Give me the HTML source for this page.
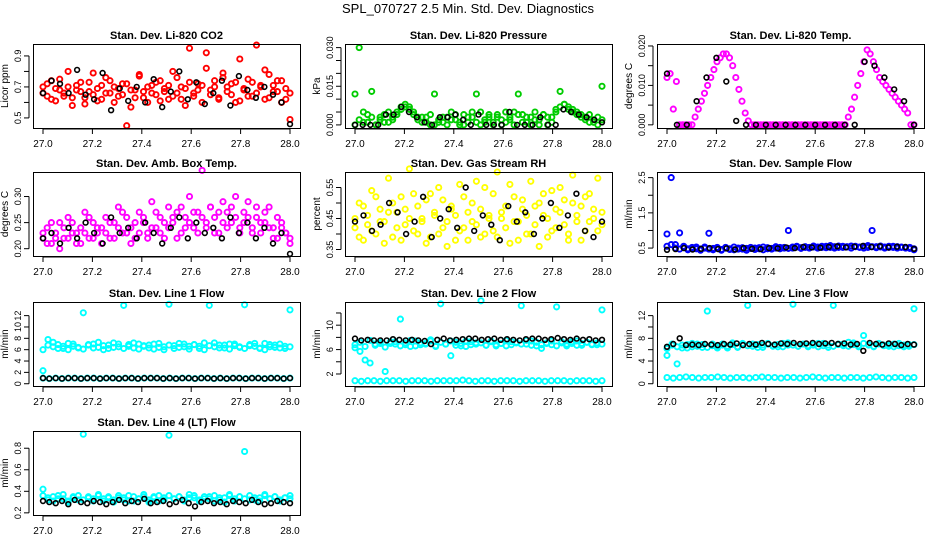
<!DOCTYPE html>
<html><head><meta charset="utf-8"><style>
html,body{margin:0;padding:0;background:#fff;}
svg{display:block;font-family:"Liberation Sans",sans-serif;}
</style></head><body>
<svg id="chart" width="936" height="540" viewBox="0 0 936 540">
<text x="468" y="13" text-anchor="middle" font-size="13">SPL_070727  2.5 Min. Std. Dev. Diagnostics</text>
</svg>
<script>
// ---- data arrays ----
const xTicks=[27.0,27.2,27.4,27.6,27.8,28.0];
const xTickLabels=["27.0","27.2","27.4","27.6","27.8","28.0"];
const titles=["Stan. Dev. Li-820 CO2","Stan. Dev. Li-820 Pressure","Stan. Dev. Li-820 Temp.","Stan. Dev. Amb. Box Temp.","Stan. Dev. Gas Stream RH","Stan. Dev. Sample Flow","Stan. Dev. Line 1 Flow","Stan. Dev. Line 2 Flow","Stan. Dev. Line 3 Flow","Stan. Dev. Line 4 (LT) Flow"];
const yLabels=["Licor ppm","kPa","degrees C","degrees C","percent","ml/min","ml/min","ml/min","ml/min","ml/min"];
const yRanges=[[0.435,0.977],[-0.0012,0.0314],[-0.0008,0.0205],[0.186,0.347],[0.329,0.60],[0.275,2.66],[-0.4,14.4],[0.03,13.8],[-0.4,14.4],[0.18,0.96]];
const yTicks=[[0.5,0.6,0.7,0.8,0.9],[0,0.005,0.01,0.015,0.02,0.025,0.03],[0,0.005,0.01,0.015,0.02],[0.2,0.25,0.3],[0.35,0.4,0.45,0.5,0.55],[0.5,1,1.5,2,2.5],[0,2,4,6,8,10,12],[2,4,6,8,10,12],[0,2,4,6,8,10,12],[0.2,0.4,0.6,0.8]];
const yTickLabels=[["0.5","","0.7","","0.9"],["0.000","","","0.015","","","0.030"],["0.000","","0.010","","0.020"],["0.20","0.25","0.30"],["0.35","","0.45","","0.55"],["0.5","","1.5","","2.5"],["0","2","4","6","8","10","12"],["2","","6","","10",""],["0","","4","","8","","12"],["0.2","0.4","0.6","0.8"]];

const co2A=[0.66,0.72,0.62,0.69,0.75,0.64,0.70,0.58,0.68,0.73,0.63,0.67,0.79,0.61,0.71,0.66,0.74,0.60,0.69,0.65,0.72,0.57,0.68,0.77,0.63,0.70,0.66,0.73,0.61,0.67,0.71,0.64,0.76,0.62,0.69,0.95,0.66,0.72,0.60,0.92,0.68,0.74,0.63,0.79,0.70,0.65,0.73,0.61,0.68,0.75,0.64,0.97,0.71,0.62,0.78,0.67,0.74,0.60,0.69,0.49];
const co2B=[0.70,0.64,0.74,0.61,0.68,0.66,0.80,0.63,0.71,0.67,0.59,0.73,0.65,0.69,0.62,0.76,0.66,0.70,0.64,0.72,0.45,0.68,0.63,0.78,0.67,0.60,0.71,0.65,0.74,0.69,0.62,0.80,0.66,0.70,0.58,0.73,0.64,0.68,0.71,0.82,0.65,0.70,0.62,0.76,0.67,0.72,0.60,0.88,0.69,0.64,0.73,0.66,0.70,0.81,0.63,0.71,0.67,0.74,0.62,0.66];
const co2K=[0.66,0.74,0.72,0.66,0.81,0.65,0.62,0.79,0.55,0.69,0.61,0.70,0.60,0.75,0.57,0.67,0.80,0.62,0.73,0.59,0.66,0.74,0.58,0.77,0.68,0.63,0.70,0.65,0.60,0.46];

const presA=[0.012,0.030,0.001,0.004,0.013,0.000,0.003,0.001,0.005,0.002,0.004,0.006,0.007,0.006,0.004,0.002,0.001,0.003,0.000,0.012,0.002,0.001,0.003,0.005,0.002,0.000,0.004,0.001,0.003,0.012,0.005,0.001,0.003,0.000,0.004,0.002,0.001,0.003,0.005,0.012,0.004,0.001,0.003,0.002,0.000,0.004,0.003,0.001,0.006,0.013,0.008,0.006,0.005,0.004,0.003,0.002,0.004,0.001,0.003,0.015];
const presB=[0.000,0.002,0.005,0.001,0.003,0.000,0.002,0.004,0.001,0.003,0.005,0.007,0.008,0.007,0.005,0.003,0.003,0.001,0.004,0.000,0.001,0.003,0.000,0.002,0.004,0.001,0.000,0.003,0.005,0.001,0.000,0.002,0.004,0.001,0.003,0.000,0.005,0.002,0.000,0.004,0.001,0.003,0.000,0.005,0.002,0.004,0.000,0.003,0.005,0.007,0.008,0.007,0.006,0.005,0.004,0.003,0.001,0.002,0.000,0.002];
const presK=[0.000,0.000,0.000,0.000,0.004,0.004,0.007,0.005,0.003,0.001,0.000,0.003,0.003,0.004,0.002,0.000,0.004,0.000,0.000,0.000,0.005,0.000,0.000,0.000,0.003,0.000,0.000,0.006,0.005,0.004,0.003,0.002,0.001];

const tempM=[0.012,0.013,0.004,0.011,0,0,0,0,0,0.002,0.004,0.006,0.008,0.010,0.012,0.014,0.016,0.017,0.018,0.018,0.017,0.015,0.012,0.009,0.006,0.003,0.001,0,0,0,0,0,0,0,0,0,0,0,0,0,0,0,0,0,0,0,0,0,0,0,0,0,0,0,0,0,0,0,0.002,0.004,0.007,0.010,0.013,0.016,0.019,0.018,0.016,0.014,0.012,0.011,0.010,0.009,0.008,0.007,0.006,0.005,0.004,0.003,0,0];
const tempK=[0.013,0,0,0.006,0.012,0.017,0.011,0.001,0,0,0,0,0,0,0,0,0,0,0,0,0.016,0.015,0.012,0.009,0.006,0];

const boxA=[0.22,0.24,0.21,0.23,0.25,0.22,0.26,0.23,0.21,0.24,0.27,0.22,0.25,0.23,0.24,0.26,0.22,0.25,0.28,0.23,0.26,0.24,0.22,0.27,0.25,0.23,0.29,0.24,0.26,0.22,0.28,0.25,0.27,0.23,0.26,0.30,0.24,0.27,0.35,0.25,0.28,0.26,0.23,0.29,0.27,0.25,0.30,0.24,0.27,0.26,0.23,0.28,0.25,0.27,0.24,0.22,0.26,0.24,0.23,0.21];
const boxB=[0.23,0.21,0.25,0.22,0.20,0.24,0.22,0.25,0.23,0.21,0.23,0.26,0.22,0.24,0.21,0.23,0.25,0.22,0.24,0.27,0.23,0.21,0.25,0.23,0.26,0.22,0.24,0.27,0.23,0.25,0.24,0.26,0.22,0.28,0.24,0.25,0.27,0.23,0.26,0.24,0.28,0.23,0.27,0.25,0.24,0.28,0.26,0.23,0.25,0.29,0.24,0.26,0.23,0.25,0.28,0.24,0.22,0.25,0.23,0.22];
const boxK=[0.22,0.23,0.21,0.24,0.22,0.25,0.23,0.21,0.26,0.23,0.24,0.22,0.25,0.23,0.21,0.24,0.26,0.22,0.25,0.23,0.24,0.22,0.26,0.23,0.25,0.22,0.24,0.21,0.23,0.19];

const rhA=[0.42,0.50,0.38,0.46,0.54,0.40,0.48,0.44,0.58,0.39,0.47,0.52,0.43,0.61,0.41,0.49,0.45,0.37,0.53,0.46,0.40,0.51,0.44,0.48,0.38,0.56,0.42,0.47,0.50,0.43,0.39,0.55,0.46,0.41,0.60,0.45,0.49,0.37,0.52,0.44,0.48,0.40,0.57,0.43,0.50,0.46,0.39,0.54,0.42,0.47,0.51,0.38,0.59,0.44,0.49,0.41,0.53,0.45,0.58,0.43];
const rhB=[0.45,0.39,0.49,0.43,0.41,0.52,0.44,0.37,0.47,0.50,0.42,0.38,0.48,0.45,0.53,0.40,0.44,0.51,0.39,0.47,0.55,0.42,0.36,0.49,0.46,0.41,0.52,0.38,0.44,0.57,0.48,0.40,0.45,0.53,0.39,0.47,0.42,0.56,0.44,0.38,0.51,0.46,0.40,0.49,0.36,0.53,0.45,0.41,0.48,0.55,0.43,0.40,0.50,0.46,0.38,0.52,0.44,0.48,0.41,0.47];
const rhK=[0.44,0.46,0.41,0.43,0.50,0.47,0.40,0.44,0.52,0.39,0.45,0.48,0.42,0.55,0.41,0.46,0.43,0.38,0.49,0.44,0.47,0.40,0.45,0.50,0.42,0.46,0.53,0.41,0.39,0.44];

const flowA=[0.9,2.5,0.6,0.93,0.52,0.48,0.5,0.53,0.47,0.5,0.92,0.49,0.52,0.46,0.5,0.48,0.53,0.47,0.51,0.49,0.52,0.5,0.48,0.53,0.51,0.49,0.54,0.52,0.5,1.0,0.53,0.55,0.51,0.54,0.52,0.56,0.53,0.55,0.51,0.57,0.54,0.52,0.55,0.53,0.56,0.54,0.52,0.55,0.57,1.0,0.54,0.56,0.53,0.55,0.52,0.54,0.53,0.51,0.52,0.48];
const flowB=[0.55,0.6,0.5,0.47,0.55,0.45,0.52,0.48,0.44,0.53,0.47,0.45,0.5,0.44,0.52,0.46,0.45,0.5,0.47,0.44,0.49,0.46,0.51,0.45,0.48,0.47,0.5,0.48,0.52,0.49,0.5,0.53,0.49,0.52,0.5,0.53,0.5,0.52,0.55,0.52,0.5,0.56,0.52,0.54,0.5,0.55,0.53,0.5,0.52,0.54,0.51,0.53,0.5,0.52,0.55,0.5,0.52,0.5,0.49,0.45];
const flowK=[0.45,0.47,0.5,0.46,0.48,0.5,0.47,0.49,0.46,0.5,0.48,0.47,0.5,0.49,0.52,0.5,0.53,0.52,0.51,0.53,0.55,0.52,0.54,0.56,0.53,0.55,0.52,0.54,0.53,0.48];

const l1A=[2.3,7.8,6.5,6.9,6.2,7.1,6.6,6.3,12.5,6.8,7.0,6.4,6.7,6.2,7.2,6.5,13.8,6.9,6.3,7.0,6.6,6.8,6.1,7.1,6.5,14.0,6.7,6.4,7.0,6.6,6.9,6.2,7.2,13.8,6.5,6.8,6.3,7.0,6.7,6.4,13.9,6.9,6.6,6.2,7.1,6.5,6.8,6.3,6.6,13.0];
const l1B=[6.0,6.8,7.3,6.2,6.6,6.0,7.0,6.4,6.1,6.9,6.3,7.3,6.0,6.8,6.4,7.0,6.2,6.6,7.2,6.1,6.7,6.3,7.0,6.4,6.0,6.8,6.2,7.1,6.5,6.1,6.9,6.6,6.0,6.7,7.2,6.3,6.8,6.1,7.0,6.5,6.2,6.7,7.1,6.3,6.0,6.9,6.4,7.0,6.2,6.5];
const l1K=[1.0,0.9,1.0,0.9,1.0,1.0,0.9,1.0,1.0,0.9,1.0,1.0,0.9,1.0,1.0,0.9,1.0,1.0,1.0,0.9,1.0,0.9,1.0,1.0,0.9,1.0,1.0,0.9,1.0,0.9,1.0,1.0,0.9,1.0,1.0,0.9,1.0,1.0,0.9,1.0];

const l2A=[6.3,5.7,4.3,3.8,6.9,7.2,2.4,7.0,7.3,11.0,6.8,7.5,6.6,7.1,6.9,7.4,6.5,13.5,6.9,5.0,7.2,6.6,7.4,6.8,7.1,14.0,6.7,7.3,6.6,7.0,7.5,6.8,7.2,13.2,6.9,7.4,6.6,6.2,7.1,6.8,13.0,7.3,6.6,7.0,7.4,6.7,7.2,6.9,6.8,12.5];
const l2B=[6.8,7.2,6.5,7.5,6.7,7.0,6.4,7.3,6.9,6.6,7.1,6.5,7.4,6.8,7.0,7.6,6.6,7.2,6.9,7.4,6.7,7.0,6.5,7.3,6.9,7.1,6.7,7.4,6.8,7.0,6.6,7.3,7.1,6.9,7.5,6.7,7.2,6.8,7.0,7.4,6.6,7.1,6.9,7.3,6.7,7.0,7.2,6.8,7.1,6.9];
const l2L=[0.9,0.8,0.9,0.9,0.8,0.9,0.9,0.9,0.8,0.9,0.9,0.9,0.8,0.9,0.9,0.9,0.9,1.0,0.9,0.8,0.9,0.9,0.8,0.9,0.9,0.9,0.8,0.9,0.9,0.9,0.8,0.9,0.9,0.9,0.8,0.9,0.9,0.9,0.8,0.9];
const l2K=[7.8,7.5,7.6,7.5,7.5,7.5,7.7,7.6,7.5,7.6,7.5,7.4,6.9,7.6,7.8,7.5,7.6,7.7,7.8,7.8,7.6,7.7,7.8,7.6,7.7,7.6,7.5,7.7,7.8,7.8,7.6,7.7,7.9,7.7,7.6,7.8,7.6,7.7,7.5,7.6];

const l3A=[5.0,6.8,3.5,6.3,6.9,6.5,7.0,6.4,12.8,6.7,6.3,7.0,6.6,6.9,6.4,7.1,13.8,6.6,6.9,6.4,7.0,6.7,6.5,7.1,6.8,14.0,6.6,7.0,6.5,6.8,7.1,6.7,6.4,13.8,6.9,7.0,6.6,7.2,6.7,8.5,6.9,6.5,7.1,6.8,6.6,7.0,6.7,6.5,6.9,13.2];
const l3B=[6.2,7.0,6.5,6.8,6.3,7.1,6.6,6.9,6.4,7.0,6.6,6.8,6.3,7.2,6.5,6.9,6.7,7.0,6.4,6.8,7.1,6.6,6.9,6.5,7.2,6.8,6.6,7.0,6.7,6.9,6.5,7.1,6.8,6.6,7.0,6.7,7.3,6.9,6.5,7.1,6.8,6.6,7.0,6.7,6.9,6.5,7.1,6.8,6.6,6.9];
const l3L=[1.1,1.0,1.1,1.2,1.1,1.0,1.1,1.1,1.2,1.1,1.0,1.1,1.1,1.0,1.1,1.2,1.1,1.1,1.0,1.1,1.1,1.0,1.1,1.2,1.1,1.0,1.1,1.1,1.0,1.1,1.1,1.0,1.1,1.2,1.1,1.0,1.1,1.1,1.0,1.1];
const l3K=[6.5,7.0,8.0,6.8,6.9,6.8,7.0,6.9,6.8,7.0,6.9,7.1,6.8,7.0,6.9,7.2,7.0,6.9,7.1,7.0,7.2,7.0,7.1,7.2,7.0,7.1,7.2,7.0,7.1,6.9,7.0,5.8,7.2,7.0,6.9,7.1,7.0,6.8,7.0,6.9];

const l4A=[0.42,0.34,0.31,0.36,0.33,0.30,0.35,0.32,0.93,0.34,0.31,0.36,0.33,0.35,0.30,0.34,0.32,0.36,0.31,0.33,0.35,0.30,0.34,0.36,0.32,0.92,0.33,0.35,0.31,0.34,0.36,0.32,0.33,0.35,0.31,0.34,0.30,0.36,0.33,0.35,0.77,0.32,0.34,0.31,0.36,0.33,0.35,0.32,0.34,0.33];
const l4B=[0.36,0.32,0.35,0.33,0.37,0.31,0.34,0.36,0.32,0.35,0.33,0.37,0.31,0.34,0.32,0.36,0.34,0.31,0.35,0.33,0.37,0.32,0.35,0.31,0.34,0.36,0.33,0.35,0.32,0.37,0.34,0.31,0.35,0.33,0.36,0.32,0.34,0.37,0.31,0.35,0.33,0.36,0.32,0.34,0.37,0.33,0.35,0.31,0.34,0.36];
const l4K=[0.31,0.30,0.29,0.31,0.28,0.32,0.30,0.29,0.31,0.30,0.28,0.30,0.32,0.29,0.31,0.30,0.33,0.29,0.30,0.31,0.28,0.30,0.32,0.29,0.26,0.30,0.31,0.29,0.30,0.28,0.31,0.30,0.29,0.32,0.30,0.28,0.29,0.31,0.30,0.29];

const panelSeries=[
 [["#ff0000",co2A],["#ff0000",co2B],["#000",co2K]],
 [["#00cc00",presA],["#00cc00",presB],["#000",presK]],
 [["#ff00ff",tempM],["#000",tempK]],
 [["#ff00ff",boxA],["#ff00ff",boxB],["#000",boxK]],
 [["#ffff00",rhA],["#ffff00",rhB],["#000",rhK]],
 [["#0000ff",flowA],["#0000ff",flowB],["#000",flowK]],
 [["#00ffff",l1A],["#00ffff",l1B],["#00ffff",l1K],["#000",l1K]],
 [["#00ffff",l2A],["#00ffff",l2B],["#00ffff",l2L],["#000",l2K]],
 [["#00ffff",l3A],["#00ffff",l3B],["#00ffff",l3L],["#000",l3K]],
 [["#00ffff",l4A],["#00ffff",l4B],["#000",l4K]]
];

// ---- layout ----
const NS="http://www.w3.org/2000/svg";
const svg=document.getElementById('chart');
const colLeft=[33,345,657], colW=267;
const rowTop=[44,172,302,431], rowH=84;
function mk(tag,attrs,parent){const e=document.createElementNS(NS,tag);for(const k in attrs)e.setAttribute(k,attrs[k]);(parent||svg).appendChild(e);return e;}

titles.forEach((title,p)=>{
  const c=p%3, r=Math.floor(p/3);
  const L=colLeft[c], T=rowTop[r], R=L+colW, B=T+rowH;
  const g=mk('g',{});
  
  
  const xs=v=>L+10+(v-27)*(colW-20);
  const yr=yRanges[p];
  const ys=v=>B-(v-yr[0])/(yr[1]-yr[0])*rowH;
  const pg=mk('g',{},g);
  
  
  panelSeries[p].forEach(([col,arr])=>{
    const blk=col==="#000";
    arr.forEach((v,i)=>{
      const t=27+i/(arr.length-1);
      const pt=mk('circle',{cx:xs(t).toFixed(1),cy:ys(v).toFixed(1),r:blk?2.4:2.6,fill:'none',stroke:col,'stroke-width':blk?1.6:1.9},pg);
      
      
    });
  });
  const box=mk('rect',{x:L+0.5,y:T+0.5,width:colW,height:rowH,fill:'none',stroke:'#000','stroke-width':1},g);
  
  
  const tt=mk('text',{x:(L+R)/2,y:T-5,'text-anchor':'middle','font-size':11,'font-weight':'bold'},g);
  tt.textContent=title;
  
  
  xTicks.forEach((v,i)=>{
    const x=xs(v);
    mk('line',{x1:x,x2:x,y1:B+1,y2:B+6,stroke:'#000'},g);
    const lb=mk('text',{x:x,y:B+19,'text-anchor':'middle','font-size':10},g);
    lb.textContent=xTickLabels[i];
    
    
  });
  mk('line',{x1:xs(27),x2:xs(28),y1:B+1,y2:B+1,stroke:'#000'},g);
  const yt=yTicks[p];
  mk('line',{x1:L-4,x2:L-4,y1:ys(yt[0]),y2:ys(yt[yt.length-1]),stroke:'#000'},g);
  yt.forEach((v,i)=>{
    const y=ys(v);
    mk('line',{x1:L-9,x2:L-4,y1:y,y2:y,stroke:'#000'},g);
    const s=yTickLabels[p][i];
    if(s){
      const lb=mk('text',{x:0,y:0,'text-anchor':'middle','font-size':9,transform:`translate(${L-12},${y}) rotate(-90)`},g);
      lb.textContent=s;
      
      
    }
  });
  const yl=mk('text',{x:0,y:0,'text-anchor':'middle','font-size':10,transform:`translate(${L-25},${(T+B)/2}) rotate(-90)`},g);
  yl.textContent=yLabels[p];
  
  
});
</script>
</body></html>
